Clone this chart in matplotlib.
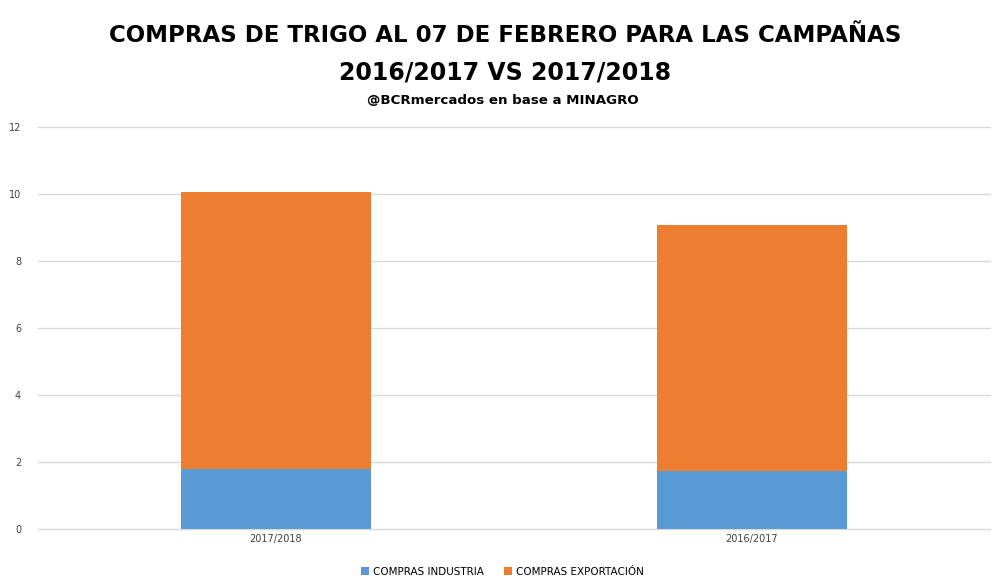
import matplotlib
matplotlib.use("Agg")
from matplotlib import pyplot as plt

campanas = ["2017/2018", "2016/2017"]
industria = [1.79, 1.74]
exportacion = [8.27, 7.33]
yticks = [0, 2, 4, 6, 8, 10, 12]

narrow = ["Liberation Sans Narrow", "DejaVu Sans"]

fig = plt.figure(figsize=(9.95, 5.87), dpi=100)
ax = fig.add_axes([0.038, 0.0988, 0.957, 0.685])

x = range(len(campanas))
ax.bar(x, industria, width=0.40, color="#5b9bd5", label="COMPRAS INDUSTRIA", zorder=3)
ax.bar(x, exportacion, width=0.40, bottom=industria, color="#ed7d31",
       label="COMPRAS EXPORTACIÓN", zorder=3)

ax.set_xlim(-0.5, 1.5)
ax.set_ylim(0, 12)
ax.set_yticks(yticks)
ax.set_xticks(list(x))
ax.set_xticklabels(campanas)
ax.tick_params(axis="both", length=0, labelsize=7, colors="#404040")
ax.tick_params(axis="y", pad=12)
ax.grid(axis="y", color="#d9d9d9", linewidth=1, zorder=0)
for gl in ax.get_ygridlines():
    gl.set_clip_on(False)
for s in ax.spines.values():
    s.set_visible(False)

# titulo
fig.text(0.508, 0.94, "COMPRAS DE TRIGO AL 07 DE FEBRERO PARA LAS CAMPAÑAS",
         ha="center", va="center", fontsize=16.5, fontweight="bold", family=narrow)
fig.text(0.508, 0.877, "2016/2017 VS 2017/2018", ha="center", va="center",
         fontsize=17, fontweight="bold", family=narrow)
fig.text(0.505, 0.828, "@BCRmercados en base a MINAGRO", ha="center", va="center",
         fontsize=9.6, fontweight="bold", family=narrow)

fig.legend(loc="center", bbox_to_anchor=(0.505, 0.026), ncol=2, frameon=False,
           prop={"family": narrow, "size": 7.5}, handlelength=0.7, handleheight=0.7,
           columnspacing=2, handletextpad=0.4)

fig.savefig("out.png", dpi=100)
